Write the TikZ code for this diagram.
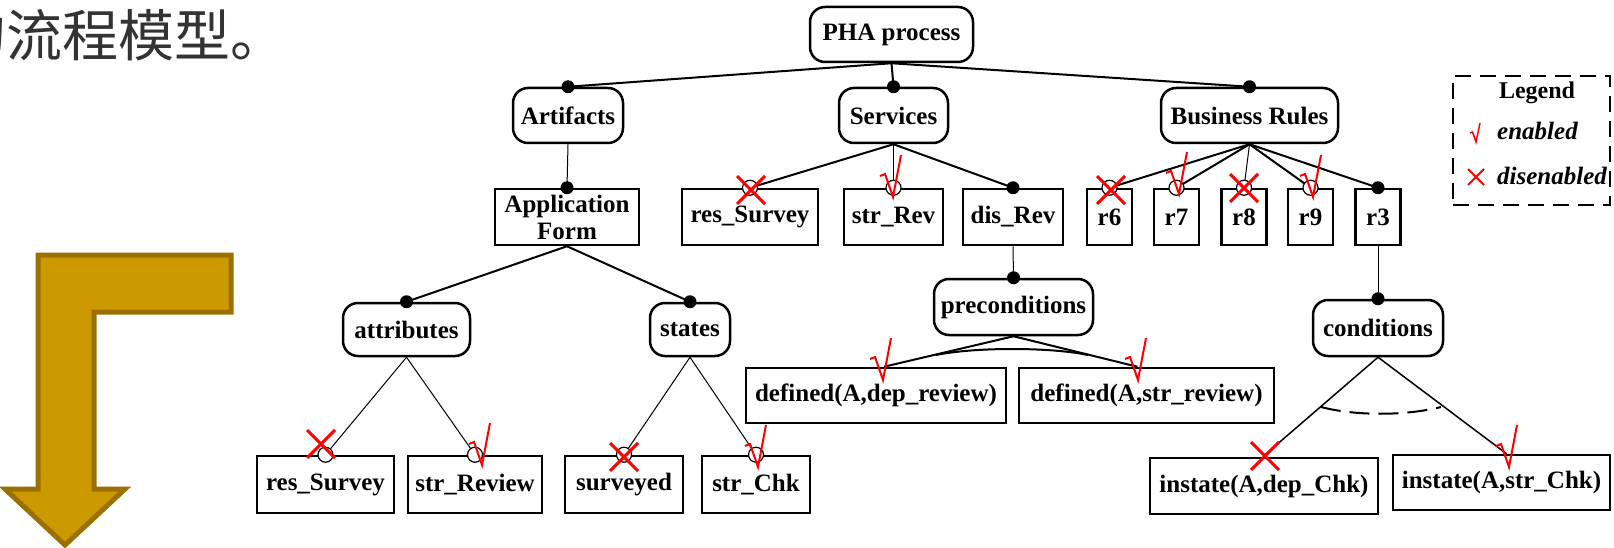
\documentclass[tikz,border=0pt]{standalone}
\usepackage{fontspec}
\setmainfont{Liberation Serif}
\newfontfamily\cjk{Noto Sans CJK SC}
\usetikzlibrary{calc}
\definecolor{gold}{HTML}{CC9900}
\definecolor{goldedge}{HTML}{9C7000}
\definecolor{cjkgray}{HTML}{333333}
\tikzset{
  lbl/.style={inner sep=0pt, font=\fontsize{25}{30}\selectfont\bfseries, align=center},
  rbox/.style={lbl, draw, line width=2.5pt, rounded corners=15pt, fill=white},
  sbox/.style={lbl, draw, line width=2.5pt, fill=white},
  conn/.style={line width=2pt},
  connthin/.style={line width=1pt},
  dotmark/.style={circle, fill=black, inner sep=0pt, minimum size=13pt},
  opencirc/.style={circle, draw, fill=white, line width=1.2pt, inner sep=0pt, minimum size=15pt},
  chk/.pic={\draw[red, line width=2pt, line join=miter] (-13,-21) -- (-8,-23) -- (0,0) -- (8,-42);},
  smallchk/.pic={\draw[red, line width=1.5pt] (-6,-9) -- (-3.5,-10) -- (0,0) -- (4,-19);},
  xmark/.pic={\draw[red, line width=3pt] (-14,-14) -- (14,14) (-14,14) -- (14,-14);},
  smallx/.pic={\draw[red, line width=2pt] (-8,-8) -- (8,8) (-8,8) -- (8,-8);}
}
\begin{document}
\begin{tikzpicture}[x=1pt, y=-1pt]
\useasboundingbox (0,0) rectangle (1614,548);

% title text (partly cut at the left edge, as in the reference)
\node[anchor=base west, inner sep=0pt, font=\cjk\fontsize{56}{60}\selectfont, text=cjkgray] (title) at (-50,57) {的流程模型。};

% bent arrow
\draw[fill=gold, draw=goldedge, line width=5pt, line join=miter]
  (38,255) -- (231,255) -- (231,312) -- (94,312) -- (94,489) -- (125,489)
  -- (65,545) -- (5,489) -- (38,489) -- cycle;

% nodes
\node[rbox, minimum width=163pt, minimum height=55pt] (pha) at (891.5,34.5) {PHA process};
\node[rbox, minimum width=110pt, minimum height=55pt] (art) at (568,115.5) {Artifacts};
\node[rbox, minimum width=109pt, minimum height=55pt] (srv) at (893.5,115.5) {Services};
\node[rbox, minimum width=177pt, minimum height=55pt] (br) at (1249.5,115.5) {Business Rules};

\node[sbox, minimum width=144pt, minimum height=56pt] (app) at (567,217) {Application\\[-3pt]Form};
\node[sbox, minimum width=136pt, minimum height=56pt] (rs1) at (750,217) {res\_Survey};
\node[sbox, minimum width=99pt, minimum height=56pt] (srev) at (893.5,217) {str\_Rev};
\node[sbox, minimum width=100pt, minimum height=56pt] (drev) at (1013,217) {dis\_Rev};
\node[sbox, minimum width=45pt, minimum height=56pt] (r6) at (1109.5,217) {r6};
\node[sbox, minimum width=45pt, minimum height=56pt] (r7) at (1176.5,217) {r7};
\node[sbox, minimum width=45pt, minimum height=56pt] (r8) at (1244,217) {r8};
\node[sbox, minimum width=45pt, minimum height=56pt] (r9) at (1310.5,217) {r9};
\node[sbox, minimum width=45pt, minimum height=56pt] (r3) at (1378,217) {r3};

\node[rbox, minimum width=159pt, minimum height=56pt] (pre) at (1013.5,307) {preconditions};
\node[sbox, minimum width=260pt, minimum height=55pt] (ddep) at (876,395.5) {defined(A,dep\_review)};
\node[sbox, minimum width=255pt, minimum height=55pt] (dstr) at (1146.5,395.5) {defined(A,str\_review)};

\node[rbox, minimum width=127pt, minimum height=53pt] (attr) at (406.5,329.5) {attributes};
\node[rbox, minimum width=80pt, minimum height=53pt] (st) at (690,329.5) {states};
\node[sbox, minimum width=137pt, minimum height=57pt] (rsb) at (325.5,484.5) {res\_Survey};
\node[sbox, minimum width=134pt, minimum height=57pt] (strr) at (475,484.5) {str\_Review};
\node[sbox, minimum width=118pt, minimum height=57pt] (surv) at (624,484.5) {surveyed};
\node[sbox, minimum width=108pt, minimum height=57pt] (strc) at (756,484.5) {str\_Chk};

\node[rbox, minimum width=130pt, minimum height=56pt] (cond) at (1378,328) {conditions};
\node[sbox, minimum width=228pt, minimum height=56pt] (idep) at (1264,486) {instate(A,dep\_Chk)};
\node[sbox, minimum width=217pt, minimum height=55pt] (istr) at (1501.5,482.5) {instate(A,str\_Chk)};

% connectors
\draw[conn] (pha.south) -- (art.north);
\draw[conn] (pha.south) -- (srv.north);
\draw[conn] (pha.south) -- (br.north);
\draw[connthin] (art.south) -- (app.north);
\draw[conn] (srv.south) -- (rs1.north);
\draw[connthin] (srv.south) -- (srev.north);
\draw[conn] (srv.south) -- (drev.north);
\draw[conn] (br.south) -- (r6.north);
\draw[conn] (br.south) -- (r7.north);
\draw[connthin] (br.south) -- (r8.north);
\draw[conn] (br.south) -- (r9.north);
\draw[conn] (br.south) -- (r3.north);
\draw[connthin] (drev.south) -- (pre.north);
\draw[connthin] (r3.south) -- (cond.north);
\draw[conn] (app.south) -- (attr.north);
\draw[conn] (app.south) -- (st.north);
\draw[connthin] (attr.south) -- (rsb.north);
\draw[connthin] (attr.south) -- (strr.north);
\draw[connthin] (st.south) -- (surv.north);
\draw[connthin] (st.south) -- (strc.north);
\coordinate (pd) at ($(ddep.north)+(8,0)$);
\coordinate (ps) at ($(dstr.north)+(-9,0)$);
\draw[conn] (pre.south) -- (pd);
\draw[conn] (pre.south) -- (ps);
\coordinate (cd) at ($(idep.north)+(1,-2)$);
\coordinate (cs) at ($(istr.north)+(5,0)$);
\draw[line width=1.5pt] (cond.south) -- (cd);
\draw[line width=1.5pt] (cond.south) -- (cs);

% group arcs
\draw[line width=2pt] (936,355) .. controls (975,347) and (1050,347) .. (1088,355);
\draw[line width=2pt, dash pattern=on 20pt off 9pt] (1321,407) .. controls (1355,416) and (1405,416) .. (1441,407);

% dots and open circles
\foreach \n in {art,srv,br,app,drev,r3,pre,cond,attr,st}
  \node[dotmark] at (\n.north) {};
\foreach \n in {rs1,srev,r6,r7,r8,r9,rsb,strr,surv,strc}
  \node[opencirc] at (\n.north) {};

% red marks
\pic at (751,190) {xmark};
\pic at (893,197) {chk};
\pic at (1111,190) {xmark};
\pic at (1179,194) {chk};
\pic at (1244,188) {xmark};
\pic at (1313,197) {chk};
\pic at (883,380) {chk};
\pic at (1138,380) {chk};
\pic at (321,444) {xmark};
\pic at (482,465) {chk};
\pic at (624,457) {xmark};
\pic at (758,467) {chk};
\pic at (1265,456) {xmark};
\pic at (1509,467) {chk};

% legend
\node[draw, line width=2.5pt, dash pattern=on 16pt off 9pt, minimum width=157pt, minimum height=129pt, inner sep=0pt] (legend) at (1531.5,140.5) {};
\node[lbl, font=\fontsize{24}{26}\selectfont\bfseries] (lgt) at (1537,93) {Legend};
\node[lbl, anchor=west, font=\fontsize{25}{26}\selectfont\bfseries\itshape] (len) at (1497,131) {enabled};
\node[lbl, anchor=west, font=\fontsize{25}{26}\selectfont\bfseries\itshape] (ldis) at (1497,176) {disenabled};
\pic at (1476,142) {smallchk};
\pic at (1476,177) {smallx};
\end{tikzpicture}
\end{document}
